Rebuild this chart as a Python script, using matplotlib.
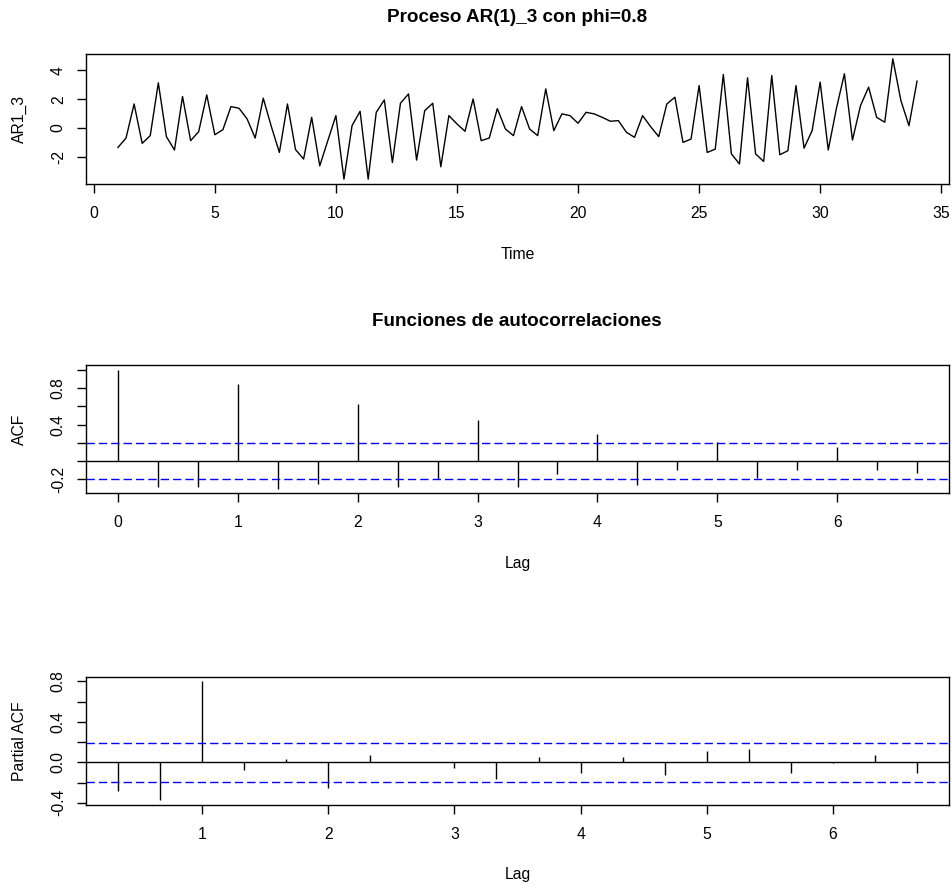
import numpy as np
import matplotlib
matplotlib.use("Agg")
import matplotlib.pyplot as plt

plt.rcParams['font.family'] = ['Liberation Sans', 'DejaVu Sans']

# serie AR(1) simulada, frecuencia 3 empezando en t=1
freq = 3
t_start = 1
ar1_3 = [-1.35, -0.70, 1.67, -1.07, -0.53, 3.14, -0.60, -1.53, 2.19, -0.88,
         -0.26, 2.30, -0.47, -0.12, 1.49, 1.37, 0.63, -0.70, 2.07, 0.10,
         -1.70, 1.67, -1.50, -2.16, 0.74, -2.63, -0.88, 0.86, -3.56, 0.16,
         1.16, -3.56, 1.09, 1.95, -2.40, 1.72, 2.37, -2.23, 1.20, 1.72,
         -2.70, 0.86, 0.28, -0.23, 2.02, -0.88, -0.70, 1.35, -0.07, -0.53,
         1.49, -0.07, -0.53, 2.72, -0.19, 0.98, 0.86, 0.33, 1.09, 0.98,
         0.74, 0.47, 0.51, -0.30, -0.65, 0.86, 0.09, -0.60, 1.67, 2.14,
         -1.00, -0.77, 2.95, -1.70, -1.47, 3.72, -1.80, -2.50, 3.49, -1.80,
         -2.33, 3.65, -1.86, -1.58, 2.95, -1.40, -0.19, 3.19, -1.53, 1.33,
         3.77, -0.84, 1.56, 2.84, 0.74, 0.40, 4.81, 1.91, 0.16, 3.26]

# acf (lag 0..20) y pacf (lag 1..20), en unidades de lag/frecuencia
acf_vals = [1.0, -0.28, -0.28, 0.84, -0.30, -0.245, 0.63, -0.28, -0.20, 0.45,
            -0.28, -0.145, 0.30, -0.26, -0.094, 0.21, -0.18, -0.094, 0.16,
            -0.094, -0.13]
pacf_vals = [-0.284, -0.375, 0.80, -0.072, 0.036, -0.254, 0.072, 0.004,
             -0.055, -0.16, 0.052, -0.104, 0.052, -0.13, 0.11, 0.127, -0.104,
             -0.005, 0.072, -0.104]

n = len(ar1_3)
clim = 1.96 / np.sqrt(n)

main_title = "Proceso AR(1)_3 con phi=0.8"
acf_title = "Funciones de autocorrelaciones"

FS = 11.3
W, H = 952, 888
DASH = (0, (6, 2.9))


def r_range(lo, hi):
    # R extiende los ejes un 4%
    d = (hi - lo) * 0.04
    return lo - d, hi + d


def style_axes(ax, xticks, yticks, ylabels, xlab, ylab):
    for s in ax.spines.values():
        s.set_linewidth(1.0)
    ax.set_xticks(xticks)
    ax.set_xticklabels([str(v) for v in xticks])
    ax.set_yticks(yticks)
    ax.set_yticklabels(ylabels)
    ax.tick_params(direction='out', length=6.5, width=1.0, labelsize=FS, pad=8)
    ax.tick_params(axis='x', pad=9)
    for lab in ax.get_yticklabels():
        lab.set_rotation(90)
        lab.set_va('center')
    ax.set_xlabel(xlab, fontsize=FS, va='center')
    ax.xaxis.set_label_coords(0.5, -0.545)
    ax.set_ylabel(ylab, fontsize=FS, va='center')
    ax.yaxis.set_label_coords(-0.077, 0.5)


fig = plt.figure(figsize=(W / 100, H / 100), dpi=100)
left = 86 / W
width = (949 - 86) / W

# serie de tiempo
ax1 = fig.add_axes([left, 1 - 184 / H, width, 130 / H])
time = t_start + np.arange(n) / freq
ax1.plot(time, ar1_3, color='black', lw=1.0)
ax1.set_xlim(*r_range(time[0], time[-1]))
ax1.set_ylim(*r_range(min(ar1_3), max(ar1_3)))
style_axes(ax1, list(range(0, 40, 5)), [-2, 0, 2, 4], ['-2', '0', '2', '4'],
           "Time", "AR1_3")
fig.text(517 / W, 1 - 18 / H, main_title, ha='center', va='center',
         fontsize=FS * 1.2, fontweight='bold')

# ACF
ax2 = fig.add_axes([left, 1 - 493.3 / H, width, 128.3 / H])
lags = np.arange(len(acf_vals)) / freq
ax2.vlines(lags, 0, acf_vals, color='black', lw=1.0)
ax2.axhline(0, color='black', lw=1.0)
ax2.axhline(clim, color='#0000ff', lw=1.0, ls=DASH)
ax2.axhline(-clim, color='#0000ff', lw=1.0, ls=DASH)
ax2.set_xlim(*r_range(lags[0], lags[-1]))
ax2.set_ylim(*r_range(min(min(acf_vals), -clim), max(max(acf_vals), clim)))
style_axes(ax2, list(range(0, 7)), [-0.2, 0, 0.2, 0.4, 0.6, 0.8, 1.0],
           ['-0.2', '', '', '0.4', '', '0.8', ''], "Lag", "ACF")
fig.text(517 / W, 1 - 321 / H, acf_title, ha='center', va='center',
         fontsize=FS * 1.2, fontweight='bold')

# PACF
ax3 = fig.add_axes([left, 1 - 805 / H, width, 128.3 / H])
plags = np.arange(1, len(pacf_vals) + 1) / freq
ax3.vlines(plags, 0, pacf_vals, color='black', lw=1.0)
ax3.axhline(0, color='black', lw=1.0)
ax3.axhline(clim, color='#0000ff', lw=1.0, ls=DASH)
ax3.axhline(-clim, color='#0000ff', lw=1.0, ls=DASH)
ax3.set_xlim(*r_range(plags[0], plags[-1]))
ax3.set_ylim(*r_range(min(min(pacf_vals), -clim), max(max(pacf_vals), clim)))
style_axes(ax3, list(range(1, 7)), [-0.4, -0.2, 0, 0.2, 0.4, 0.6, 0.8],
           ['-0.4', '', '0.0', '', '0.4', '', '0.8'], "Lag", "Partial ACF")

fig.savefig("out.png", dpi=100)
